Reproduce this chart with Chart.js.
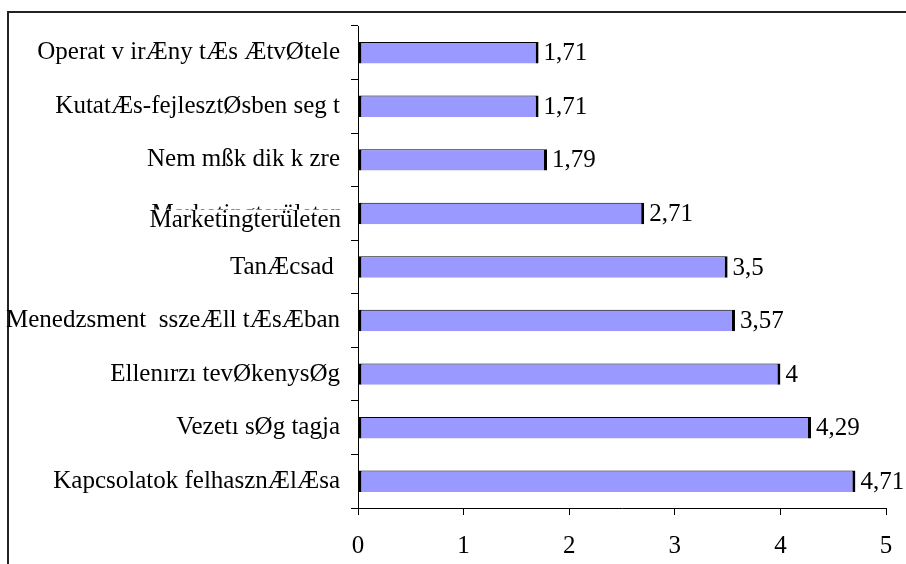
<!DOCTYPE html>
<html>
<head>
<meta charset="utf-8">
<script src="https://cdn.jsdelivr.net/npm/chart.js@4/dist/chart.umd.min.js"></script>
<style>
html,body{margin:0;padding:0;background:#fff;}
canvas{display:block;}
</style>
</head>
<body>
<canvas id="c" width="906" height="564"></canvas>
<script>
const categories = [
  "Operat v irÆny tÆs ÆtvØtele",
  "KutatÆs-fejlesztØsben seg t",
  "Nem mßk dik k zre",
  "Marketingterületen",
  "TanÆcsad ",
  "Menedzsment  sszeÆll tÆsÆban",
  "Ellenırzı tevØkenysØg",
  "Vezetı sØg tagja",
  "Kapcsolatok felhasznÆlÆsa"
];
const values = [1.71, 1.71, 1.79, 2.71, 3.5, 3.57, 4, 4.29, 4.71];
const xTickLabels = ["0", "1", "2", "3", "4", "5"];

const FONT = "'Liberation Serif', 'Times New Roman', serif";
const FSIZE = 25;
const SHIFTED = 3; // index of the label drawn lower (wrapped label)

const framePlugin = {
  id: 'frame',
  beforeDraw(chart) {
    const ctx = chart.ctx;
    ctx.save();
    ctx.fillStyle = '#fff';
    ctx.fillRect(0, 0, chart.width, chart.height);
    ctx.strokeStyle = '#222';
    ctx.lineWidth = 2;
    ctx.beginPath();
    ctx.moveTo(8, 564);
    ctx.lineTo(8, 12);
    ctx.lineTo(906, 12);
    ctx.stroke();
    ctx.restore();
  }
};

const valueLabelPlugin = {
  id: 'valueLabels',
  afterDatasetsDraw(chart) {
    const ctx = chart.ctx;
    const meta = chart.getDatasetMeta(0);
    ctx.save();
    ctx.font = FSIZE + "px " + FONT;
    ctx.fillStyle = '#000';
    ctx.textAlign = 'left';
    ctx.textBaseline = 'middle';
    meta.data.forEach((bar, i) => {
      const txt = String(values[i]).replace('.', ',');
      ctx.fillText(txt, bar.x + 5, bar.y + 1);
    });
    // wrapped category label: main line lower, first line mostly clipped
    const yScale = chart.scales.y;
    const yy = yScale.getPixelForTick(SHIFTED);
    ctx.textAlign = 'right';
    ctx.textBaseline = 'alphabetic';
    ctx.fillText(categories[SHIFTED], 341, yy + 14);
    ctx.beginPath();
    ctx.rect(100, yy - 11, 250, 7);
    ctx.clip();
    ctx.fillText(categories[SHIFTED], 343, yy + 8);
    ctx.restore();
  }
};

new Chart(document.getElementById('c'), {
  type: 'bar',
  data: {
    labels: categories,
    datasets: [{
      data: values,
      backgroundColor: '#9999FF',
      borderColor: '#000',
      borderWidth: {left: 3, right: 3, top: 1, bottom: 0},
      borderSkipped: false,
      categoryPercentage: 1,
      barPercentage: 0.4
    }]
  },
  options: {
    indexAxis: 'y',
    responsive: false,
    animation: false,
    devicePixelRatio: 1,
    layout: {padding: {top: 26, right: 20, left: 0, bottom: 0}},
    plugins: {legend: {display: false}, tooltip: {enabled: false}},
    scales: {
      x: {
        min: 0, max: 5,
        afterFit(s) { s.height = 56; s.paddingLeft = 0; s.paddingRight = 0; },
        ticks: {
          stepSize: 1,
          color: '#000',
          padding: 16,
          maxRotation: 0,
          font: {family: FONT, size: FSIZE},
          callback: (v, i) => xTickLabels[i]
        },
        grid: {drawOnChartArea: false, drawTicks: true, tickLength: 7, color: '#000'},
        border: {color: '#000', width: 1}
      },
      y: {
        afterFit(s) { s.width = 358; s.paddingTop = 0; s.paddingBottom = 0; },
        ticks: {
          color: '#000',
          padding: 11,
          font: {family: FONT, size: FSIZE},
          callback: (v, i) => (i === SHIFTED ? '' : categories[i])
        },
        grid: {drawOnChartArea: false, drawTicks: true, tickLength: 7, color: '#000', offset: true},
        border: {color: '#000', width: 1}
      }
    }
  },
  plugins: [framePlugin, valueLabelPlugin]
});
</script>
</body>
</html>
